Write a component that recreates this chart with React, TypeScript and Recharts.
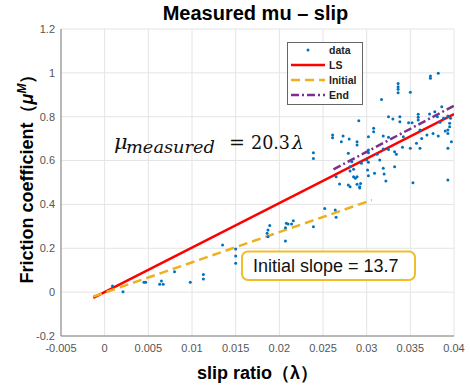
import React from 'react';
import { ComposedChart, Scatter, Line, XAxis, YAxis, CartesianGrid, Label } from 'recharts';

const xTicks = [-0.005, 0, 0.005, 0.01, 0.015, 0.02, 0.025, 0.03, 0.035, 0.04];
const yTicks = [-0.2, 0, 0.2, 0.4, 0.6, 0.8, 1, 1.2];
const xDomain: [number, number] = [-0.005, 0.04];
const yDomain: [number, number] = [-0.2, 1.2];

// measured (slip ratio, friction coefficient) samples
const measured: [number, number][] = [
  [0.0009, 0.028], [0.0021, 0.002], [0.0045, 0.045], [0.0047, 0.045], [0.0063, 0.036],
  [0.0065, 0.051], [0.0067, 0.036], [0.008, 0.093], [0.0098, 0.045], [0.0113, 0.081],
  [0.0113, 0.06], [0.0135, 0.215], [0.015, 0.197], [0.015, 0.165], [0.015, 0.132],
  [0.0187, 0.283], [0.0186, 0.268], [0.0187, 0.253], [0.0189, 0.304], [0.0207, 0.294],
  [0.0207, 0.233], [0.0208, 0.314], [0.021, 0.311], [0.0214, 0.311], [0.0216, 0.326],
  [0.0239, 0.298], [0.0252, 0.382], [0.0264, 0.375], [0.0265, 0.341],
  [0.0239, 0.636], [0.0239, 0.61], [0.0382, 0.998], [0.0373, 0.986], [0.0373, 0.975],
  [0.0336, 0.952], [0.0336, 0.937], [0.0336, 0.925], [0.0336, 0.909], [0.035, 0.911],
  [0.0317, 0.879], [0.0386, 0.846], [0.0325, 0.8], [0.033, 0.79], [0.0338, 0.8],
  [0.0338, 0.777], [0.0348, 0.773], [0.0352, 0.773], [0.0359, 0.811], [0.0359, 0.797],
  [0.0359, 0.785], [0.0372, 0.812], [0.0378, 0.823], [0.0381, 0.8], [0.0384, 0.775],
  [0.0388, 0.793], [0.0393, 0.803], [0.0396, 0.793], [0.0395, 0.77], [0.0395, 0.754],
  [0.0393, 0.739], [0.0393, 0.724], [0.039, 0.735], [0.0361, 0.739], [0.0369, 0.717],
  [0.0376, 0.724], [0.0382, 0.712], [0.0363, 0.701], [0.0325, 0.706], [0.0342, 0.709],
  [0.0291, 0.782], [0.0261, 0.717], [0.0261, 0.704], [0.0271, 0.686], [0.028, 0.698],
  [0.0289, 0.686], [0.0289, 0.671], [0.0308, 0.747], [0.0308, 0.732], [0.0302, 0.709],
  [0.0302, 0.648], [0.0302, 0.636], [0.0312, 0.629], [0.0315, 0.603], [0.0319, 0.653],
  [0.0332, 0.64], [0.0334, 0.629], [0.0341, 0.661], [0.035, 0.656], [0.0357, 0.679],
  [0.0361, 0.656], [0.0393, 0.656], [0.0397, 0.686], [0.0325, 0.651], [0.0265, 0.526],
  [0.0285, 0.526], [0.0287, 0.519], [0.0289, 0.526], [0.0281, 0.572], [0.0281, 0.552],
  [0.0269, 0.493], [0.0279, 0.489], [0.0289, 0.492], [0.0292, 0.481], [0.0292, 0.475],
  [0.0301, 0.557], [0.0302, 0.531], [0.0309, 0.542], [0.0319, 0.565], [0.032, 0.539],
  [0.0322, 0.507], [0.0332, 0.572], [0.0353, 0.499], [0.0393, 0.511], [0.0273, 0.712],
  [0.0285, 0.56], [0.0293, 0.496], [0.0281, 0.481], [0.0279, 0.633], [0.0283, 0.595],
  [0.0294, 0.588], [0.03, 0.603], [0.0302, 0.592], [0.0319, 0.712],
];

const lsLine = [{ x: -0.0013, y: -0.026 }, { x: 0.04, y: 0.812 }];
const initialLine = [{ x: -0.0013, y: -0.02 }, { x: 0.0306, y: 0.42 }];
const endLine = [{ x: 0.0262, y: 0.56 }, { x: 0.04, y: 0.85 }];

const scatterData = measured.map(([x, y]) => ({ x, y }));

const BLUE = '#0072BD';
const RED = '#ff0000';
const ORANGE = '#EDB120';
const PURPLE = '#7E2F8E';
const AXIS = '#808080';
const TICK = { fill: '#555', fontSize: 11, fontFamily: 'Arial, "Liberation Sans", sans-serif' };

const Dot = (p: any) => <circle cx={p.cx} cy={p.cy} r={1.5} fill={BLUE} />;

const YTitle = (props: any) => {
  const vb = props.viewBox || { x: 0, y: 29, width: 61, height: 307 };
  const bx = vb.x + 33;
  const cy = vb.y + vb.height / 2 - 8;
  return (
    <text
      x={bx}
      y={cy}
      transform={`rotate(-90 ${bx} ${cy})`}
      textAnchor="middle"
      fontSize={18}
      fontWeight="bold"
      fontFamily='Arial, "Liberation Sans", sans-serif'
      fill="#000"
    >
      Friction coefficient（<tspan fontStyle="italic">μ</tspan>
      <tspan fontSize={12} fontStyle="italic" dy={-7}>M</tspan>
      <tspan dy={7}>）</tspan>
    </text>
  );
};

export default function App() {
  const sans = 'Arial, "Liberation Sans", sans-serif';
  const serif = '"DejaVu Serif", "Liberation Serif", serif';
  return (
    <div style={{ position: 'absolute', left: 0, top: 0, width: 470, height: 388, background: '#fff' }}>
      <ComposedChart width={470} height={388} margin={{ top: 29, right: 16, bottom: 0, left: 0 }}>
        <CartesianGrid stroke="#e4e4e4" strokeWidth={1} />
        <XAxis
          dataKey="x"
          type="number"
          domain={xDomain}
          ticks={xTicks}
          allowDataOverflow
          height={52}
          tick={TICK}
          tickLine={false}
          tickSize={6}
          tickMargin={2}
          axisLine={{ stroke: AXIS }}
        >
          <Label
            value="slip ratio（λ）"
            position="insideBottom"
            offset={9}
            fontSize={18}
            fontWeight="bold"
            fontFamily={sans}
            fill="#000"
          />
        </XAxis>
        <YAxis
          type="number"
          domain={yDomain}
          ticks={yTicks}
          allowDataOverflow
          width={61}
          tick={TICK}
          tickLine={false}
          tickSize={6}
          tickMargin={0}
          axisLine={{ stroke: AXIS }}
        >
          <Label content={<YTitle />} />
        </YAxis>
        <XAxis xAxisId="top" orientation="top" type="number" domain={xDomain} ticks={xTicks} allowDataOverflow mirror height={0} tick={false} tickSize={4} tickLine={{ stroke: AXIS }} axisLine={{ stroke: AXIS }} />
        <XAxis xAxisId="bot2" orientation="bottom" type="number" domain={xDomain} ticks={xTicks} allowDataOverflow mirror height={0} tick={false} tickSize={4} tickLine={{ stroke: AXIS }} axisLine={false} />
        <YAxis yAxisId="right" orientation="right" type="number" domain={yDomain} ticks={yTicks} allowDataOverflow mirror width={0} tick={false} tickSize={4} tickLine={{ stroke: AXIS }} axisLine={{ stroke: AXIS }} />
        <YAxis yAxisId="left2" orientation="left" type="number" domain={yDomain} ticks={yTicks} allowDataOverflow mirror width={0} tick={false} tickSize={4} tickLine={{ stroke: AXIS }} axisLine={false} />
        <Scatter name="data" data={scatterData} dataKey="y" shape={Dot} isAnimationActive={false} />
        <Line name="LS" data={lsLine} dataKey="y" type="linear" stroke={RED} strokeWidth={2.5} dot={false} activeDot={false} isAnimationActive={false} />
        <Line name="Initial" data={initialLine} dataKey="y" type="linear" stroke={ORANGE} strokeWidth={2.5} strokeDasharray="9 5" dot={false} activeDot={false} isAnimationActive={false} />
        <Line name="End" data={endLine} dataKey="y" type="linear" stroke={PURPLE} strokeWidth={2.5} strokeDasharray="8 3 2 3" dot={false} activeDot={false} isAnimationActive={false} />
      </ComposedChart>
      <svg width={470} height={388} style={{ position: 'absolute', left: 0, top: 0, pointerEvents: 'none' }}>
        <text x={255.5} y={20} textAnchor="middle" fontSize={20} fontWeight="bold" fontFamily={sans} fill="#000">
          Measured mu – slip
        </text>
        {/* legend */}
        <rect x={287.5} y={42.5} width={75} height={62} fill="#fff" stroke="#666" strokeWidth={1} />
        <circle cx={308} cy={50} r={1.5} fill={BLUE} />
        <line x1={291} y1={65} x2={325} y2={65} stroke={RED} strokeWidth={2.5} />
        <line x1={291} y1={80} x2={325} y2={80} stroke={ORANGE} strokeWidth={2.5} strokeDasharray="9 5" />
        <line x1={291} y1={95} x2={325} y2={95} stroke={PURPLE} strokeWidth={2.5} strokeDasharray="8 3 2 3" />
        <g fontSize={10.5} fontWeight="bold" fontFamily={sans} fill="#222">
          <text x={329} y={54}>data</text>
          <text x={329} y={68.5}>LS</text>
          <text x={329} y={83.5}>Initial</text>
          <text x={329} y={98.5}>End</text>
        </g>
        {/* formula */}
        <g fontFamily={serif} fill="#111">
          <text x={114} y={149} fontSize={21} fontStyle="italic">μ</text>
          <text x={126} y={152.5} fontSize={17} fontStyle="italic" textLength={89} lengthAdjust="spacingAndGlyphs">measured</text>
          <text x={229} y={149} fontSize={19}>=</text>
          <text x={251} y={149} fontSize={19} textLength={39} lengthAdjust="spacingAndGlyphs">20.3</text>
          <text x={292} y={149} fontSize={19} fontStyle="italic">λ</text>
        </g>
        {/* annotation box */}
        <rect x={242} y={251.5} width={173} height={28.5} rx={6} ry={6} fill="#fff" stroke="#F0BE28" strokeWidth={2} />
        <text x={253} y={272} fontSize={18} fontFamily={sans} fill="#111">Initial slope = 13.7</text>
      </svg>
    </div>
  );
}
